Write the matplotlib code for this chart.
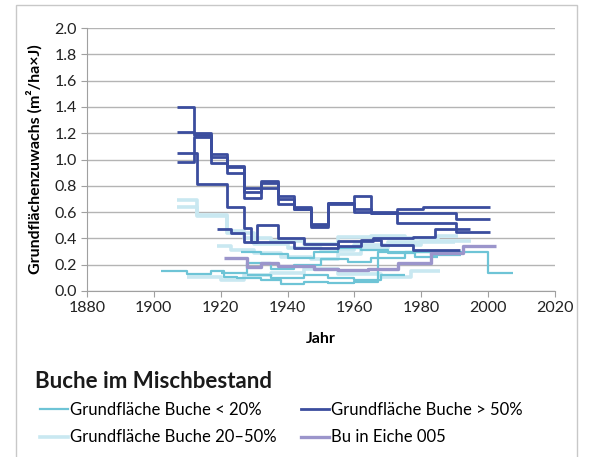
import matplotlib
matplotlib.use("Agg")
import matplotlib.pyplot as plt
from matplotlib.lines import Line2D
from matplotlib.patches import Rectangle

plt.rcParams['font.family'] = ['Lato', 'DejaVu Sans']

# ---- data: step series (start years of each step, values, end year) ----
# Grundfläche Buche < 20%
c1_years = [1902, 1910, 1917, 1921, 1925, 1932, 1938, 1945, 1952, 1960, 1967, 2000]
c1_vals  = [0.15, 0.13, 0.15, 0.11, 0.10, 0.08, 0.05, 0.07, 0.06, 0.07, 0.30, 0.14]
c1_end = 2007.5
c2_years = [1920, 1928, 1935, 1942, 1950, 1958, 1965, 1975, 1983]
c2_vals  = [0.14, 0.21, 0.17, 0.20, 0.24, 0.22, 0.25, 0.30, 0.27]
c2_end = 1992
c3_years = [1926, 1932, 1940, 1948, 1955, 1962, 1970, 1978]
c3_vals  = [0.30, 0.28, 0.25, 0.30, 0.33, 0.31, 0.29, 0.26]
c3_end = 1985
c4_years = [1928, 1935, 1945, 1952, 1960, 1968]
c4_vals  = [0.12, 0.10, 0.12, 0.10, 0.08, 0.12]
c4_end = 1975

# Grundfläche Buche 20–50%
p1_years = [1907, 1913, 1922, 1927, 1935, 1945, 1955, 1965, 1975, 1985]
p1_vals  = [0.69, 0.58, 0.46, 0.40, 0.38, 0.36, 0.41, 0.42, 0.40, 0.42]
p1_end = 1991
p2_years = [1907, 1913, 1922, 1930, 1940, 1950, 1960, 1970, 1978]
p2_vals  = [0.64, 0.57, 0.44, 0.36, 0.33, 0.31, 0.35, 0.37, 0.37]
p2_end = 1990
p3_years = [1919, 1923, 1930, 1938, 1947, 1955, 1962, 1970, 1980]
p3_vals  = [0.34, 0.31, 0.29, 0.26, 0.24, 0.28, 0.33, 0.35, 0.38]
p3_end = 1995
p4_years = [1910, 1920, 1927, 1935, 1945, 1955, 1968, 1977]
p4_vals  = [0.11, 0.08, 0.12, 0.14, 0.17, 0.13, 0.11, 0.15]
p4_end = 1985.5

# Grundfläche Buche > 50%
d1_years = [1907, 1912, 1917, 1922, 1927, 1932, 1937, 1942, 1947, 1952, 1960, 1965, 1972.7, 1980.5]
d1_vals  = [1.40, 1.20, 1.04, 0.95, 0.78, 0.84, 0.72, 0.62, 0.50, 0.67, 0.72, 0.60, 0.62, 0.64]
d1_end = 2000.5
d2_years = [1907, 1912, 1917, 1922, 1927, 1932, 1937, 1942, 1947, 1952, 1960, 1965, 1972.7, 1990.5]
d2_vals  = [1.21, 1.19, 1.02, 0.90, 0.71, 0.78, 0.66, 0.62, 0.51, 0.67, 0.62, 0.59, 0.52, 0.45]
d2_end = 2000.5
d3_years = [1907, 1913, 1922, 1927, 1929, 1935, 1942, 1955, 1965.5, 1977.5, 1984]
d3_vals  = [1.05, 0.81, 0.64, 0.48, 0.37, 0.37, 0.33, 0.38, 0.40, 0.41, 0.47]
d3_end = 1994.6
d4_years = [1907, 1912, 1917, 1922, 1927, 1932, 1937, 1942, 1947, 1952, 1960, 1965, 1972.7, 1990.5]
d4_vals  = [0.98, 1.17, 0.97, 0.94, 0.75, 0.82, 0.70, 0.64, 0.49, 0.66, 0.60, 0.59, 0.59, 0.55]
d4_end = 2000.5
d5_years = [1919, 1923, 1927, 1931, 1937, 1945, 1955, 1962, 1968, 1977.5]
d5_vals  = [0.47, 0.44, 0.37, 0.50, 0.40, 0.36, 0.34, 0.39, 0.35, 0.31]
d5_end = 1991.6

# Bu in Eiche 005
e_years = [1921, 1928, 1932, 1937, 1942, 1948, 1955, 1964, 1973, 1983, 1992.5]
e_vals  = [0.25, 0.18, 0.21, 0.19, 0.19, 0.17, 0.16, 0.17, 0.21, 0.29, 0.34]
e_end = 2002.5

x_ticks = [1880, 1900, 1920, 1940, 1960, 1980, 2000, 2020]
y_ticks = [0.0, 0.2, 0.4, 0.6, 0.8, 1.0, 1.2, 1.4, 1.6, 1.8, 2.0]

legend_labels = ["Grundfläche Buche < 20%", "Grundfläche Buche 20–50%",
                 "Grundfläche Buche > 50%", "Bu in Eiche 005"]

C_CYAN = "#6ec4d6"
C_PALE = "#c9e8f1"
C_DARK = "#3b4d9e"
C_PURP = "#9b95cb"

fig = plt.figure(figsize=(5.89, 4.57), dpi=100)
fig.patches.append(Rectangle((16/589, -0.05), (577-16)/589, 1.05 - 5/457,
                             transform=fig.transFigure, fill=False,
                             edgecolor="#c8c8c8", linewidth=1.0))
ax = fig.add_axes([87/589, 1-291/457, (555-87)/589, (291-28)/457])

def step(years, vals, end, color, lw):
    xs = list(years) + [end]
    ys = list(vals) + [vals[-1]]
    ax.step(xs, ys, where='post', color=color, linewidth=lw, solid_capstyle='butt')

for yy, vv, ee in [(p1_years, p1_vals, p1_end), (p2_years, p2_vals, p2_end),
                   (p3_years, p3_vals, p3_end), (p4_years, p4_vals, p4_end)]:
    step(yy, vv, ee, C_PALE, 2.6)
for yy, vv, ee in [(c1_years, c1_vals, c1_end), (c2_years, c2_vals, c2_end),
                   (c3_years, c3_vals, c3_end), (c4_years, c4_vals, c4_end)]:
    step(yy, vv, ee, C_CYAN, 1.6)
step(e_years, e_vals, e_end, C_PURP, 2.4)
for yy, vv, ee in [(d1_years, d1_vals, d1_end), (d2_years, d2_vals, d2_end),
                   (d3_years, d3_vals, d3_end), (d4_years, d4_vals, d4_end),
                   (d5_years, d5_vals, d5_end)]:
    step(yy, vv, ee, C_DARK, 2.0)

ax.set_xlim(1880, 2020)
ax.set_ylim(0, 2.0)
ax.set_xticks(x_ticks)
ax.set_yticks(y_ticks)
ax.set_yticklabels([f"{v:.1f}" for v in y_ticks])
ax.yaxis.grid(True, color="#b4b4b4", linewidth=1.0)
ax.set_axisbelow(True)
for s in ["top", "right"]:
    ax.spines[s].set_visible(False)
for s in ["left", "bottom"]:
    ax.spines[s].set_color("#a0a0a0")
ax.tick_params(axis='both', colors="#a0a0a0", labelcolor="#222222",
               labelsize=11.5, length=4)
ax.set_xlabel("Jahr", fontsize=11.5, fontweight='bold', labelpad=12)
ax.set_ylabel("Grundflächenzuwachs (m²/ha×J)", fontsize=11.5, fontweight='bold', labelpad=8)

fig.text(35/589, 1-381/457, "Buche im Mischbestand", fontsize=16, fontweight='bold',
         va='center', ha='left', color="#1a1a1a")

handles = [Line2D([], [], color=C_CYAN, lw=1.6),
           Line2D([], [], color=C_PALE, lw=2.6),
           Line2D([], [], color=C_DARK, lw=2.0),
           Line2D([], [], color=C_PURP, lw=2.4)]
fig.legend(handles, legend_labels, loc='upper left',
           bbox_to_anchor=(40/589, 1-402/457), ncol=2, frameon=False,
           fontsize=12, handlelength=1.7, handletextpad=0.1,
           columnspacing=1.45, labelspacing=0.68, borderaxespad=0, borderpad=0)

fig.savefig("out.png", dpi=100)
